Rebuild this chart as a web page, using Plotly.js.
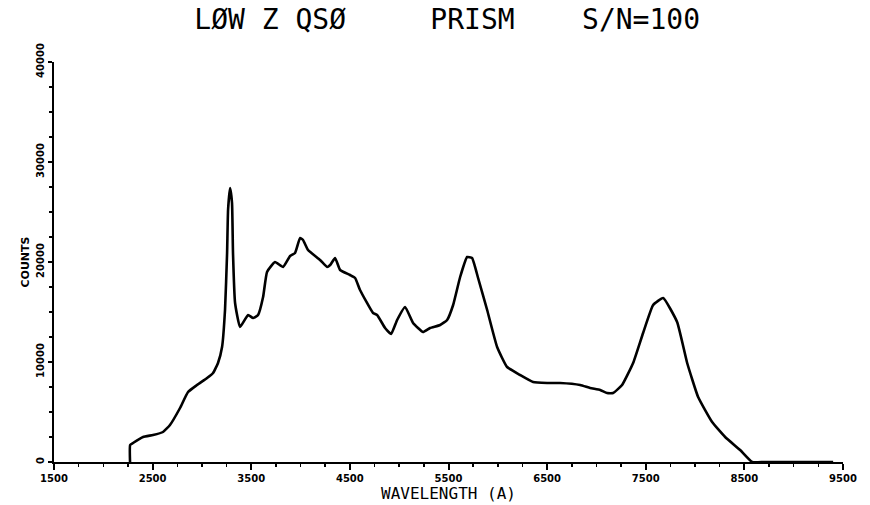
<!DOCTYPE html>
<html>
<head>
<meta charset="utf-8">
<script src="https://cdn.plot.ly/plotly-3.0.1.min.js"></script>
<style>html,body{margin:0;padding:0;background:#fff;}#chart{width:870px;height:505px;}</style>
</head>
<body>
<div id="chart"></div>
<script>
// Wavelength (Angstrom) and counts
const wavelength = [2271, 2272, 2301, 2403, 2504, 2605, 2676, 2778, 2859, 2950, 3052, 3113, 3163, 3204, 3234, 3255, 3265, 3285, 3305, 3315, 3336, 3386, 3468, 3518, 3569, 3620, 3660, 3741, 3823, 3894, 3944, 3995, 4025, 4076, 4198, 4269, 4300, 4350, 4401, 4502, 4553, 4603, 4735, 4776, 4857, 4918, 4979, 5060, 5141, 5242, 5313, 5415, 5486, 5547, 5618, 5689, 5739, 5800, 5892, 5993, 6094, 6226, 6358, 6500, 6632, 6835, 6936, 7038, 7108, 7169, 7260, 7372, 7473, 7575, 7676, 7818, 7920, 8031, 8173, 8305, 8457, 8579, 8700, 9000, 9400];
const counts = [0, 1700, 1900, 2500, 2700, 3000, 3700, 5400, 7000, 7700, 8400, 8900, 9900, 11500, 15200, 20900, 25200, 27400, 25900, 20900, 15900, 13500, 14700, 14400, 14700, 16500, 19000, 20000, 19500, 20600, 20900, 22400, 22200, 21200, 20200, 19500, 19700, 20400, 19200, 18700, 18400, 17200, 14900, 14700, 13400, 12800, 14200, 15500, 13900, 13000, 13400, 13700, 14200, 15700, 18500, 20500, 20400, 18400, 15200, 11500, 9500, 8700, 8000, 7900, 7900, 7700, 7400, 7200, 6900, 6900, 7700, 9900, 12900, 15700, 16400, 14000, 9900, 6500, 4000, 2500, 1200, 0, 0, 0, 0];
const xTicks = [1500, 2500, 3500, 4500, 5500, 6500, 7500, 8500, 9500];
const yTicks = [0, 10000, 20000, 30000, 40000];
const titleText = "L\u00D8W Z QS\u00D8\u00A0\u00A0\u00A0\u00A0\u00A0PRISM\u00A0\u00A0\u00A0\u00A0S/N=100";

const trace = {
  x: wavelength, y: counts, type: 'scatter', mode: 'lines',
  line: {color: '#000', width: 2.6, shape: 'spline', smoothing: 0.4},
  hoverinfo: 'skip', showlegend: false
};

const tickFont = {family: 'DejaVu Sans, sans-serif', size: 10, color: '#000', weight: 'bold'};

const layout = {
  width: 870, height: 505,
  margin: {l: 54, r: 27, t: 62, b: 43},
  paper_bgcolor: '#fff', plot_bgcolor: '#fff',
  title: {
    text: titleText,
    font: {family: 'DejaVu Sans Mono, monospace', size: 28, color: '#000'},
    x: 0.514, xanchor: 'center', y: 0.962, yanchor: 'middle'
  },
  xaxis: {
    range: [1500, 9500], tickvals: xTicks, ticktext: xTicks.map(String),
    showgrid: false, zeroline: false, showline: true, linecolor: '#000', linewidth: 2,
    ticks: 'outside', ticklen: 6, tickwidth: 2, tickcolor: '#000',
    minor: {dtick: 250, tick0: 1500, ticks: 'outside', ticklen: 3, tickwidth: 1.5, tickcolor: '#000'},
    tickfont: tickFont,
    title: {text: 'WAVELENGTH (A)', font: {family: 'DejaVu Sans Mono, monospace', size: 16, color: '#000'}, standoff: 4}
  },
  yaxis: {
    range: [0, 40000], tickvals: yTicks, ticktext: yTicks.map(String),
    showgrid: false, zeroline: false, showline: true, linecolor: '#000', linewidth: 2.5,
    ticks: 'outside', ticklen: 4, tickwidth: 2, tickcolor: '#000',
    minor: {dtick: 2500, tick0: 0, ticks: 'outside', ticklen: 3, tickwidth: 1.5, tickcolor: '#000'},
    tickangle: -90, tickfont: tickFont,
    title: {text: 'COUNTS', font: {family: 'DejaVu Sans, sans-serif', size: 11, color: '#000', weight: 'bold'}, standoff: 3}
  }
};

Plotly.newPlot('chart', [trace], layout, {displayModeBar: false, staticPlot: true});
</script>
</body>
</html>
